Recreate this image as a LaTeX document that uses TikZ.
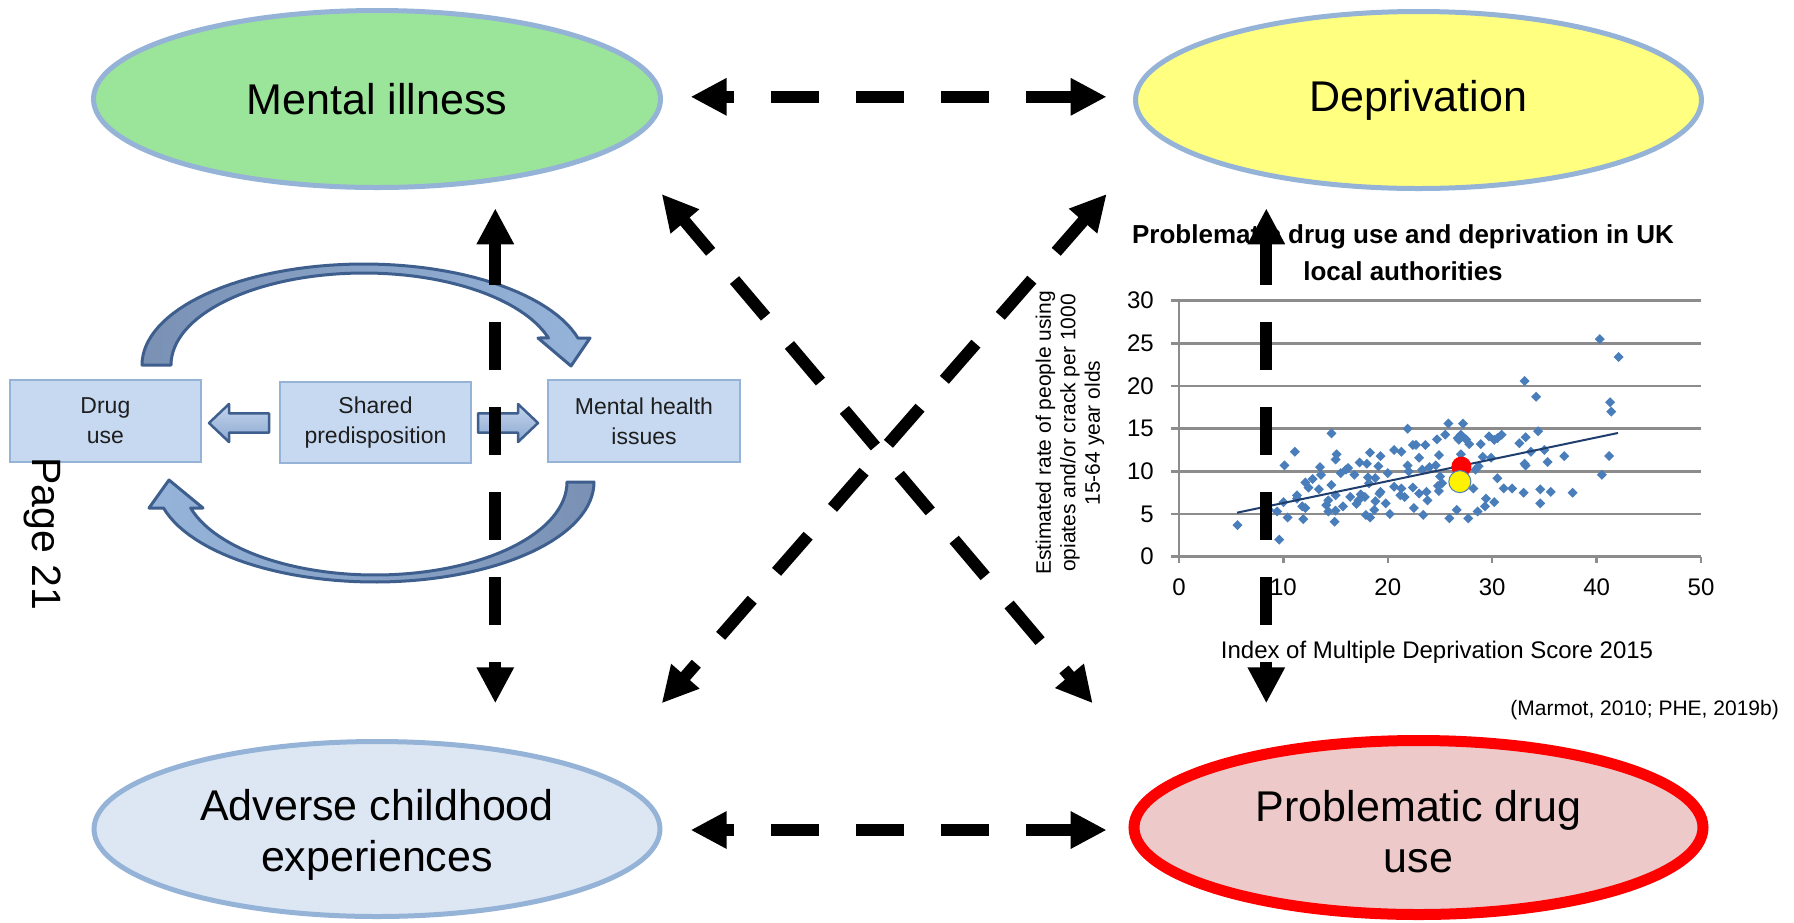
\documentclass[tikz,border=0pt]{standalone}
\usepackage{fontspec}
\setmainfont{Liberation Sans}
\usetikzlibrary{arrows.meta,shapes.geometric}
\definecolor{mgreen}{RGB}{155,229,155}
\definecolor{myellow}{RGB}{255,255,128}
\definecolor{aceblue}{RGB}{221,231,244}
\definecolor{pdupink}{RGB}{237,201,201}
\definecolor{ellborder}{RGB}{149,179,215}
\definecolor{boxfill}{RGB}{198,217,241}
\definecolor{boxborder}{RGB}{149,179,215}
\definecolor{boxtext}{RGB}{30,30,30}
\definecolor{arrowborder}{RGB}{62,95,142}
\definecolor{arcdark}{RGB}{122,145,180}
\definecolor{arclight}{RGB}{150,180,218}
\definecolor{barrowtop}{RGB}{196,213,236}
\definecolor{barrowbot}{RGB}{140,168,208}
\definecolor{gridgrey}{RGB}{140,140,140}
\definecolor{ptblue}{RGB}{74,126,187}
\definecolor{trendblue}{RGB}{31,62,110}
\begin{document}
\begin{tikzpicture}[x=1pt,y=-1pt,
  ellbase/.style={ellipse, draw=ellborder, line width=5pt, align=center, inner sep=0pt,
     font=\fontsize{43}{51}\selectfont},
  boxstyle/.style={draw=boxborder, fill=boxfill, line width=2pt, minimum width=191pt,
     minimum height=82pt, align=center, inner sep=0pt, text=boxtext,
     font=\fontsize{23}{30}\selectfont},
  dasharrow/.style={line width=12pt, dash pattern=on 48pt off 37pt,
     {Triangle[length=36pt,width=35pt]}-{Triangle[length=36pt,width=35pt]}},
  gridln/.style={draw=gridgrey, line width=2.5pt},
  ticklab/.style={font=\fontsize{24}{28}\selectfont, inner sep=0pt},
  curvarrow/.style={draw=arrowborder, line width=3pt, line join=round},
  blockarrow/.style={draw=arrowborder, line width=2.5pt, line join=round,
     top color=barrowtop, bottom color=barrowbot},
]
\useasboundingbox (0,0) rectangle (1794,922);
\fill[white] (0,0) rectangle (1794,922);

% ---------- ellipses ----------
\node[ellbase, fill=mgreen, minimum width=567pt, minimum height=177pt] (mi) at (377,99) {Mental illness};
\node[ellbase, fill=myellow, minimum width=566pt, minimum height=177pt] (dep) at (1418.5,100) {Deprivation};
\node[ellbase, fill=aceblue, minimum width=566pt, minimum height=175pt] (ace) at (377,829) {};
\node[font=\fontsize{43}{51}\selectfont, align=center, inner sep=0pt] (acetext) at (377,835) {Adverse childhood\\experiences};
\node[ellbase, fill=pdupink, draw=red, line width=11pt, minimum width=569pt, minimum height=174pt] (pdu) at (1418.5,827.5) {};
\node[font=\fontsize{43}{51}\selectfont, align=center, inner sep=0pt] (pdutext) at (1418.5,831.5) {Problematic drug\\use};

% ---------- chart ----------
\node[font=\bfseries\fontsize{26}{30}\selectfont, anchor=base, inner sep=0pt] (title1) at (1403,243.3) {Problematic drug use and deprivation in UK};
\node[font=\bfseries\fontsize{26}{30}\selectfont, anchor=base, inner sep=0pt] (title2) at (1403,280) {local authorities};
\node[rotate=90, align=center, inner sep=0pt, font=\fontsize{21}{24.5}\selectfont] (ylab) at (1070,433)
  {Estimated rate of people using\\opiates and/or crack per 1000\\15-64 year olds};
\node[font=\fontsize{24}{28}\selectfont, inner sep=0pt] (xlab) at (1437,652) {Index of Multiple Deprivation Score 2015};

\begin{scope}[shift={(1179,556.7)}, x=10.44pt, y=8.533pt]
  \foreach \v in {5,10,...,30} \draw[gridln] (-0.77,\v) -- (50,\v);
  \draw[gridln] (0,0) -- (0,30);
  \draw[gridln] (-0.77,0) -- (50,0);
  \foreach \v in {0,10,...,50} \draw[gridln] (\v,0) -- (\v,-0.7);
  \foreach \v in {0,5,...,30} \node[ticklab, anchor=east, xshift=-25pt] at (0,\v) {\v};
  \foreach \v in {0,10,...,50} \node[ticklab, yshift=-31pt] at (\v,0) {\v};
  \foreach \px/\py in {5.6/3.7, 9.6/2.0, 40.3/25.5, 42.1/23.4, 33.1/20.6, 34.2/18.75, 41.3/18.1, 41.4/17.0,
    25.8/15.6, 27.2/15.6, 21.9/15.0, 14.6/14.45, 34.4/14.7, 25.5/14.3, 30.9/14.3, 29.7/14.1, 33.2/14.0,
    26.7/13.9, 26.8/13.7, 27.0/14.3, 24.7/13.75, 27.5/13.75, 27.8/13.2, 30.2/13.7, 30.5/13.9, 32.6/13.3,
    28.9/13.2, 22.4/13.1, 22.7/13.1, 23.6/13.1, 33.7/12.3, 11.1/12.3, 20.6/12.5, 21.3/12.3, 18.3/12.2,
    27.0/12.0, 24.9/11.9, 15.1/12.0, 19.3/11.8, 29.1/11.7, 29.9/11.6, 23.0/11.6, 36.9/11.8, 41.2/11.8,
    15.0/11.4, 17.3/11.05, 18.0/10.9, 35.3/11.1, 21.9/10.7, 24.6/10.7, 24.0/10.5, 23.3/10.2, 10.1/10.7,
    13.5/10.5, 19.1/10.6, 16.2/10.4, 16.0/10.2, 33.1/10.9, 33.2/10.7, 28.7/10.6, 28.4/10.2, 40.5/9.6,
    13.6/9.6, 15.5/9.8, 18.1/9.3, 18.8/9.2, 30.5/9.2, 12.1/8.7, 14.6/8.4, 18.2/8.6, 12.4/8.1, 20.6/8.2,
    21.3/8.0, 22.4/8.1, 24.8/8.3, 28.2/8.0, 31.1/8.0, 31.9/8.0, 34.6/7.9, 13.4/7.9, 11.3/7.2, 15.0/7.2,
    16.4/7.0, 17.4/7.3, 17.8/7.0, 19.3/7.6, 19.2/7.4, 23.0/7.4, 23.7/7.6, 24.9/7.7, 21.2/7.2, 21.6/7.0,
    33.0/7.5, 35.6/7.6, 37.7/7.5, 14.3/6.6, 17.2/6.6, 18.8/6.5, 19.8/6.25, 23.8/6.6, 29.4/6.8, 30.2/6.4,
    10.0/6.4, 11.3/6.8, 14.1/6.05, 15.7/5.9, 17.0/6.2, 34.6/6.25, 22.5/5.7, 18.7/5.5, 29.3/5.9, 11.8/5.9,
    12.1/5.7, 8.6/5.5, 9.4/5.3, 14.3/5.3, 15.0/5.4, 26.6/5.5, 28.6/5.3, 17.9/4.9, 18.3/4.6, 20.2/5.0,
    23.4/4.9, 25.9/4.5, 27.7/4.5, 10.4/4.6, 11.9/4.4, 14.9/4.1, 25.2/8.6, 25.0/9.4, 26.3/8.5, 22.0/10.0,
    16.8/9.6, 12.8/9.1, 20.0/9.8, 35.0/12.5}
    \fill[ptblue] (\px,\py) ++(-5pt,0pt) -- ++(5pt,5pt) -- ++(5pt,-5pt) -- ++(-5pt,-5pt) -- cycle;
  \draw[trendblue, line width=2pt] (5.56,5.16) -- (42.05,14.5);
  \fill[red] (27.05,10.56) circle[radius=10pt];
  \filldraw[fill=yellow, draw=ptblue, line width=1pt] (26.9,8.8) circle[radius=11pt];
\end{scope}

\node[font=\fontsize{21}{25}\selectfont, anchor=east, inner sep=0pt] (cite) at (1779,710) {(Marmot, 2010; PHE, 2019b)};

% ---------- left cycle diagram ----------
\node[boxstyle] (drug) at (105.4,421) {Drug\\use};
\node[boxstyle, minimum height=81pt] (shared) at (375.5,422.5) {Shared\\predisposition};
\node[boxstyle, minimum width=192pt] (mhi) at (644,421) {Mental health\\issues};

\draw[blockarrow] (269,413.3) -- (229,413.3) -- (229,404) -- (209,423) -- (229,442) -- (229,432.7) -- (269,432.7) -- cycle;
\draw[blockarrow] (478,413.3) -- (518,413.3) -- (518,404) -- (538,423) -- (518,442) -- (518,432.7) -- (478,432.7) -- cycle;

\draw[curvarrow, left color=arcdark, right color=arclight]
  plot[domain=180:344.5, samples=60] ({364+222*cos(\x)},{365+101*sin(\x)})
  -- (590,338) -- (571,366) -- (538,338)
  -- plot[domain=342.9:180, samples=60] ({364+193*cos(\x)},{365+92*sin(\x)}) -- cycle;
\draw[curvarrow, left color=arclight, right color=arcdark]
  plot[domain=0:164.93, samples=60] ({375+219*cos(\x)},{482+100*sin(\x)})
  -- (149,508) -- (169,480) -- (203,508)
  -- plot[domain=163.77:0, samples=60] ({375+192*cos(\x)},{482+93*sin(\x)}) -- cycle;

\node[rotate=-90, inner sep=0pt, font=\fontsize{41}{48}\selectfont] (page) at (42.7,533.5) {Page 21};

% ---------- dashed arrows ----------
\coordinate (mi-e) at (690.6,96.8);
\coordinate (dep-w) at (1106.7,96.8);
\coordinate (ace-e) at (690.6,830);
\coordinate (pdu-w) at (1106.7,830);
\coordinate (mi-s) at (495.3,208.3);
\coordinate (ace-n) at (495.3,703.3);
\coordinate (dep-s) at (1266.3,208.3);
\coordinate (pdu-n) at (1266.3,703.3);
\coordinate (mi-se) at (661.7,194);
\coordinate (pdu-nw) at (1092.7,703.3);
\coordinate (dep-sw) at (1106.7,194);
\coordinate (ace-ne) at (661.7,703.3);

\draw[dasharrow, dash phase=38pt] (mi-e) -- (dep-w);
\draw[dasharrow, dash phase=38pt] (ace-e) -- (pdu-w);
\draw[dasharrow, dash phase=5pt] (mi-s) -- (ace-n);
\draw[dasharrow, dash phase=5pt] (dep-s) -- (pdu-n);
\draw[dasharrow, dash phase=6pt] (mi-se) -- (pdu-nw);
\draw[dasharrow, dash phase=5pt] (dep-sw) -- (ace-ne);
\end{tikzpicture}
\end{document}
